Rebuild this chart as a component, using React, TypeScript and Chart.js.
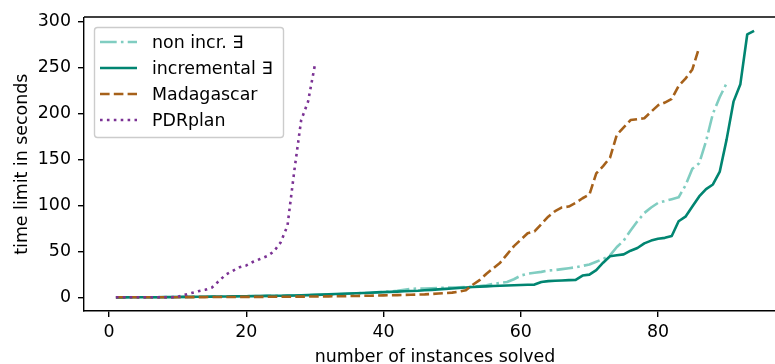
import React, { useEffect, useRef } from 'react';
import { Chart, registerables } from 'chart.js';

Chart.register(...registerables);

const seriesNames = ['non incr. ∃', 'incremental ∃', 'Madagascar', 'PDRplan'];
const seriesColors = ['#80cdc1', '#018571', '#a6611a', '#7b3294'];
const seriesDashes = [[16.7, 4.2, 2.6, 4.2], [], [9.6, 4.2], [2.6, 4.3]];

const nonIncrValues = [
  0.3, 0.3, 0.4, 0.4, 0.5, 0.5, 0.5, 0.6, 0.6, 0.7,
  0.8, 0.9, 1, 1, 1.1, 1.2, 1.3, 1.4, 1.5, 1.6,
  1.7, 1.8, 1.9, 2, 2.1, 2.2, 2.3, 2.5, 2.7, 3,
  3.2, 3.4, 3.6, 3.9, 4.2, 4.6, 5, 5.4, 5.8, 6.2,
  6.8, 7.5, 8.5, 9.5, 10, 10, 10.2, 10.5, 10.8, 11,
  11.2, 11.5, 12, 12.5, 13.5, 15, 16, 17, 20, 24,
  26, 27, 28, 29.5, 30, 31, 32, 33, 34.5, 36,
  39, 42, 46, 55, 62, 73, 83, 92, 98, 103,
  105, 107, 109, 122, 140, 146, 170, 200, 218, 233,
];

const incrementalValues = [
  0.3, 0.3, 0.4, 0.4, 0.5, 0.5, 0.5, 0.6, 0.6, 0.7,
  0.8, 0.9, 1, 1, 1.1, 1.2, 1.3, 1.4, 1.5, 1.6,
  1.7, 1.8, 1.9, 2, 2.1, 2.2, 2.4, 2.6, 2.8, 3,
  3.3, 3.6, 3.9, 4.2, 4.5, 4.8, 5.1, 5.4, 5.7, 6,
  6.3, 6.6, 6.9, 7.2, 7.5, 8, 8.5, 9, 9.5, 10,
  10.5, 11, 11.5, 12, 12.3, 12.6, 12.9, 13.2, 13.5, 13.8,
  14, 14.2, 17, 18, 18.3, 18.6, 19, 19.3, 24, 25,
  30, 38, 45, 46, 47, 51, 54, 59, 62, 64,
  65, 67, 83, 88, 99, 110, 118, 123, 137, 172,
  213, 232, 286, 290,
];

const madagascarValues = [
  0.5, 0.5, 0.5, 0.5, 0.5, 0.5, 0.5, 0.5, 0.5, 0.5,
  0.6, 0.6, 0.6, 0.6, 0.7, 0.7, 0.7, 0.7, 0.8, 0.8,
  0.8, 0.9, 0.9, 1, 1, 1, 1.1, 1.1, 1.2, 1.2,
  1.3, 1.4, 1.5, 1.6, 1.7, 1.8, 2, 2.1, 2.3, 2.5,
  2.6, 2.8, 3, 3.2, 3.4, 3.6, 4, 4.5, 5, 5.5,
  6.5, 8, 14, 19, 26, 32, 38, 47, 56, 63,
  70, 72, 80, 88, 94, 98, 99, 103, 108, 112,
  135, 143, 152, 177, 185, 193, 194, 195, 202, 209,
  212, 216, 230, 238, 248, 272,
];

const pdrplanValues = [
  0.5, 0.5, 0.5, 0.5, 0.5, 0.5, 0.5, 0.5, 0.5, 0.8,
  3, 5, 7, 8.5, 11, 18, 25, 29, 33, 35,
  39, 42, 45, 50, 60, 78, 138, 193, 213, 253,
];

const allSeries = [nonIncrValues, incrementalValues, madagascarValues, pdrplanValues];

const xTickValues = [0, 20, 40, 60, 80];
const yTickValues = [0, 50, 100, 150, 200, 250, 300];
const xRange = [-3.65, 98.65];
const yRange = [-14.5, 304.5];

const FONT = "'DejaVu Sans', sans-serif";
const FS = 17.4;

const framePlugin = {
  id: 'frame',
  afterDraw(chart: any) {
    const { ctx, chartArea } = chart;
    ctx.save();
    ctx.strokeStyle = '#000';
    ctx.lineWidth = 1.4;
    ctx.beginPath();
    const t = Math.round(chartArea.top);
    ctx.moveTo(chartArea.left, t);
    ctx.lineTo(chartArea.right, t);
    ctx.stroke();
    ctx.restore();

    // legend
    const bx = 94.5, by = 27.5, bw = 189, bh = 110, r = 3;
    ctx.save();
    ctx.beginPath();
    ctx.moveTo(bx + r, by);
    ctx.lineTo(bx + bw - r, by);
    ctx.arcTo(bx + bw, by, bx + bw, by + r, r);
    ctx.lineTo(bx + bw, by + bh - r);
    ctx.arcTo(bx + bw, by + bh, bx + bw - r, by + bh, r);
    ctx.lineTo(bx + r, by + bh);
    ctx.arcTo(bx, by + bh, bx, by + bh - r, r);
    ctx.lineTo(bx, by + r);
    ctx.arcTo(bx, by, bx + r, by, r);
    ctx.closePath();
    ctx.fillStyle = 'rgba(255,255,255,0.8)';
    ctx.fill();
    ctx.strokeStyle = '#cccccc';
    ctx.lineWidth = 1.4;
    ctx.stroke();
    const rows = [42, 68, 94, 120];
    chart.data.datasets.forEach((ds: any, i: number) => {
      const y = rows[i];
      ctx.beginPath();
      ctx.setLineDash(seriesDashes[i]);
      ctx.strokeStyle = seriesColors[i];
      ctx.lineWidth = 2.6;
      ctx.moveTo(100, y);
      ctx.lineTo(137, y);
      ctx.stroke();
      ctx.setLineDash([]);
      ctx.fillStyle = '#000';
      ctx.font = `${FS}px ${FONT}`;
      ctx.textBaseline = 'middle';
      ctx.textAlign = 'left';
      ctx.fillText(ds.label, 152, y + 1);
    });
    ctx.restore();
  },
};

export default function App() {
  const canvasRef = useRef<HTMLCanvasElement | null>(null);

  useEffect(() => {
    const canvas = canvasRef.current;
    if (!canvas) return;
    const datasets = allSeries.map((vals, i) => ({
      label: seriesNames[i],
      data: vals.map((v, j) => ({ x: j + 1, y: v })),
      borderColor: seriesColors[i],
      backgroundColor: seriesColors[i],
      borderDash: seriesDashes[i],
      borderWidth: 2.6,
      borderCapStyle: 'butt',
      borderJoinStyle: 'round',
      pointRadius: 0,
      tension: 0,
      fill: false,
      order: 4 - i,
    }));
    const chart = new Chart(canvas, {
      type: 'line',
      data: { datasets },
      options: {
        animation: false,
        responsive: false,
        devicePixelRatio: 1,
        layout: { padding: { left: 0, right: 14, top: 17, bottom: 0 } },
        plugins: { legend: { display: false }, tooltip: { enabled: false } },
        scales: {
          x: {
            type: 'linear',
            min: xRange[0],
            max: xRange[1],
            afterBuildTicks: (s: any) => { s.ticks = xTickValues.map((v) => ({ value: v })); },
            afterFit: (s: any) => { s.height = 53; },
            grid: { display: true, drawOnChartArea: false, drawTicks: true, tickLength: 6, color: '#000', lineWidth: 1.4 },
            border: { display: true, color: '#000', width: 1.4 },
            ticks: { color: '#000', font: { family: FONT, size: FS }, padding: 5, maxRotation: 0 },
            title: { display: true, text: 'number of instances solved', color: '#000', font: { family: FONT, size: FS }, padding: { top: 0, bottom: -4 } },
          },
          y: {
            type: 'linear',
            min: yRange[0],
            max: yRange[1],
            afterBuildTicks: (s: any) => { s.ticks = yTickValues.map((v) => ({ value: v })); },
            afterFit: (s: any) => { s.width = 84; },
            grid: { display: true, drawOnChartArea: false, drawTicks: true, tickLength: 6, color: '#000', lineWidth: 1.4 },
            border: { display: true, color: '#000', width: 1.4 },
            ticks: { color: '#000', font: { family: FONT, size: FS }, padding: 7 },
            title: { display: true, text: 'time limit in seconds', color: '#000', font: { family: FONT, size: FS }, padding: { top: 11.6, bottom: 0 } },
          },
        },
      },
      plugins: [framePlugin],
    } as any);
    return () => chart.destroy();
  }, []);

  return (
    <div style={{ position: 'fixed', left: 0, top: 0, width: 775, height: 364, overflow: 'hidden', background: '#fff' }}>
      <canvas ref={canvasRef} width={800} height={364} style={{ width: 800, height: 364, display: 'block' }} />
    </div>
  );
}
